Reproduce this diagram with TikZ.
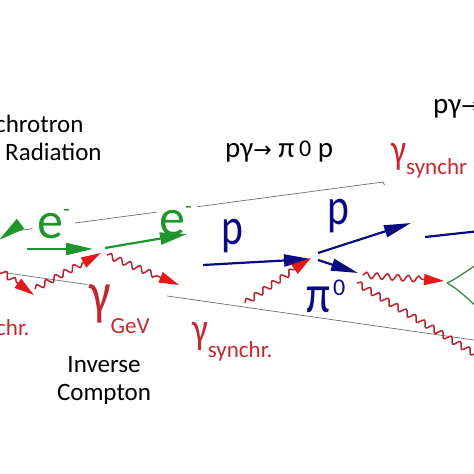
\documentclass[tikz,border=0pt]{standalone}
\usepackage{fontspec}
\setmainfont{Carlito}
\newfontfamily\tallfont[FakeStretch=0.8]{Carlito}
\newfontfamily\arrowfont{DejaVu Sans}
\usetikzlibrary{arrows.meta,decorations.pathmorphing,calc}
\definecolor{egreen}{RGB}{30,150,45}
\definecolor{pblue}{RGB}{10,10,130}
\definecolor{wavered}{RGB}{185,35,45}
\definecolor{headred}{RGB}{230,25,25}
\definecolor{labelred}{RGB}{195,40,50}
\definecolor{conegray}{RGB}{110,110,110}
\definecolor{pairgreen}{RGB}{60,140,60}
\newcommand{\fsz}[1]{\fontsize{#1}{#1}\selectfont}
\begin{document}
\begin{tikzpicture}[x=1pt,y=-1pt,
  cone/.style={conegray, line width=0.7pt},
  electron/.style={egreen, line width=2.2pt, -{Triangle[length=27pt,width=12pt]}},
  proton/.style={pblue, line width=2.2pt, -{Triangle[length=27pt,width=12pt]}},
  wave/.style={wavered, line width=1.5pt, decorate,
    decoration={snake, amplitude=3pt, segment length=10.5pt, post length=#1}},
  photon/.style={wave=19pt, -{Triangle[length=20pt,width=11pt,color=headred]}},
  pair/.style={pairgreen, line width=1.3pt},
  txt/.style={anchor=base west, inner sep=0pt},
  font=\fsz{25}]
\useasboundingbox (0,0) rectangle (474,474);
\clip (0,0) rectangle (474,474);
\foreach \n/\x/\y in {cu1/0/233, cu2/383/182, cl1/0/272, cl2/474/340,
    e0a/19/225, e0b/-1/240, e1a/27/249, e1b/93/249, e2a/105/248, e2b/187/234,
    b1a/203/265, b1b/311/259, b2a/318/253, b2b/411/223, b3a/318/260, b3b/358/273,
    b4a/425/237, b4b/480/231,
    r0a/-6/266, r0b/34/295, r1a/35/289, r1b/101/253, r2a/107/255, r2b/179/285,
    r3a/245/303, r3b/311/258, r4a/363/275, r4b/444/281, r5a/357/283, r5b/485/360,
    dk/447/283, pa/478/264, pb/478/308}
  \coordinate (\n) at (\x,\y);
\draw[cone] ($(cu1)!0.03!(cu2)$) -- ($(cu1)!0.085!(cu2)$);
\draw[cone] ($(cu1)!0.196!(cu2)$) -- ($(cu1)!0.41!(cu2)$);
\draw[cone] ($(cu1)!0.514!(cu2)$) -- (cu2) -- ++(1.5,3);
\draw[cone] (cl1) -- ($(cl1)!0.184!(cl2)$);
\draw[cone] ($(cl1)!0.352!(cl2)$) -- (cl2);
\node[txt] (sync1) at (-5,132) {chrotron};
\node[txt] (sync2) at (5,160) {Radiation};
\node[anchor=north, inner sep=0pt, align=center, font=\fontsize{25}{28}\selectfont] (icl) at (104,356) {Inverse\\Compton};
\node[txt, font=\fsz{29}] (reac1) at (225,157) {pγ{\arrowfont\fsz{22}→} π\,\raisebox{1pt}{\fsz{24}0} p};
\node[txt, font=\fsz{29}] (reac2) at (433,113) {pγ{\arrowfont\fsz{22}→}};
\node[txt, egreen, font=\fsz{52}] (el1) at (37,238) {e\raisebox{22pt}{\fsz{22}-}};
\node[txt, egreen, font=\fsz{52}] (el2) at (159,235) {e\raisebox{22pt}{\fsz{22}-}};
\node[txt, pblue, font=\tallfont\fsz{52}] (p1) at (221,244) {p};
\node[txt, pblue, font=\tallfont\fsz{52}] (p2) at (327,224) {p};
\node[txt, pblue, font=\tallfont\fsz{54}] (pi) at (306,312) {π\kern3pt\raisebox{17pt}{\normalfont\fsz{24}0}};
\node[txt, labelred, font=\fsz{23}] (gev) at (89,313) {{\tallfont\fsz{60}γ}\raisebox{-20pt}{GeV}};
\node[txt, labelred, font=\fsz{23}] (gs1) at (192,343.5) {{\tallfont\fsz{44}γ}\raisebox{-13.5pt}{synchr.}};
\node[txt, labelred, font=\fsz{23}] (gs2) at (391,163) {{\tallfont\fsz{42}γ}\raisebox{-11pt}{synchr}};
\node[txt, labelred, font=\fsz{23}] (gs0) at (-4,335) {chr.};
\draw[electron] (e0a) -- (e0b);
\draw[electron] (e1a) -- (e1b);
\draw[electron] (e2a) -- (e2b);
\draw[proton] (b1a) -- (b1b);
\draw[proton] (b2a) -- (b2b);
\draw[proton] (b3a) -- (b3b);
\draw[pblue, line width=2.2pt] (b4a) -- (b4b);
\draw[photon] (r0a) -- (r0b);
\draw[photon] (r1a) -- (r1b);
\draw[photon] (r2a) -- (r2b);
\draw[photon] (r3a) -- (r3b);
\draw[photon] (r4a) -- (r4b);
\draw[wave=0pt] (r5a) -- (r5b);
\draw[pair] (dk) .. controls (458,278) and (466,271) .. (pa);
\draw[pair] (dk) .. controls (458,289) and (466,297) .. (pb);
\end{tikzpicture}
\end{document}
